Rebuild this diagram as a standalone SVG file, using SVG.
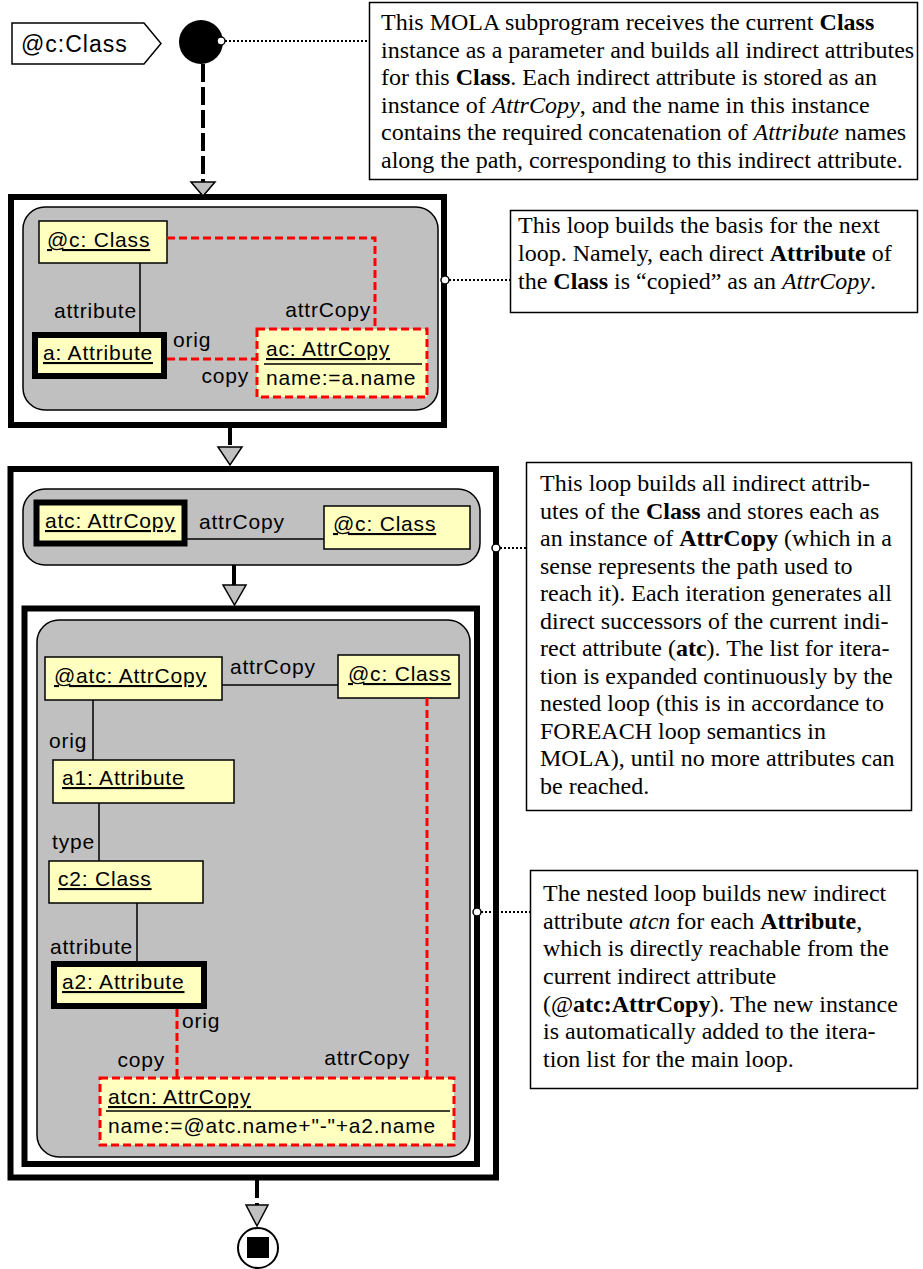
<svg xmlns="http://www.w3.org/2000/svg" width="923" height="1269" viewBox="0 0 923 1269">
<style>
.frame{fill:#fff;stroke:#000;stroke-width:6}
.region{fill:#c0c0c0;stroke:#000;stroke-width:1.5}
.obj{fill:#ffffc0;stroke:#000;stroke-width:1.5}
.objb{fill:#ffffc0;stroke:#000;stroke-width:6}
.objr{fill:#ffffc0;stroke:#f00;stroke-width:3;stroke-dasharray:8 4}
.lbl{font-family:"Liberation Sans",Arial,sans-serif;font-size:21px;letter-spacing:0.8px;fill:#000}
.u{text-decoration:underline}
.link{stroke:#000;stroke-width:1.5;fill:none}
.rlink{stroke:#f00;stroke-width:3;stroke-dasharray:8 4;fill:none}
.flow{stroke:#000;stroke-width:4;stroke-dasharray:18 5;fill:none}
.arr{fill:#c0c0c0;stroke:#000;stroke-width:1.5}
.note{fill:#fff;stroke:#000;stroke-width:1.5}
.nt{font-family:"Liberation Serif","Times New Roman",serif;font-size:24px;fill:#000}
.dot{stroke:#000;stroke-width:2;stroke-dasharray:2 2;fill:none}
.pin{fill:#fff;stroke:#000;stroke-width:1.5}
</style>

<g id="param">
<polygon points="12,23 144,23 161,43.5 144,64 12,64" fill="#fff" stroke="#000" stroke-width="1.5"/>
<text x="21" y="52" font-family="Liberation Sans,Arial,sans-serif" font-size="23" letter-spacing="1">@c:Class</text>
</g>

<g id="start">
<circle cx="201" cy="42" r="22" fill="#000"/>
</g>

<g id="note1">
<rect class="note" x="369.5" y="2.5" width="548" height="177"/>
<text class="nt" x="381" y="30">This MOLA subprogram receives the current <tspan font-weight="bold">Class</tspan></text>
<text class="nt" x="381" y="57.5">instance as a parameter and builds all indirect attributes</text>
<text class="nt" x="381" y="85">for this <tspan font-weight="bold">Class</tspan>. Each indirect attribute is stored as an</text>
<text class="nt" x="381" y="112.5">instance of <tspan font-style="italic">AttrCopy</tspan>, and the name in this instance</text>
<text class="nt" x="381" y="140">contains the required concatenation of <tspan font-style="italic">Attribute</tspan> names</text>
<text class="nt" x="381" y="167.5">along the path, corresponding to this indirect attribute.</text>
</g>

<g id="loop1">
<rect class="frame" x="11" y="197" width="433" height="228"/>
<rect class="region" x="23" y="207" width="415" height="203" rx="22"/>
</g>

<g id="loop1-c">
<rect class="obj" x="39" y="221" width="128" height="42"/>
<text class="lbl u" x="47" y="247">@c: Class</text>
</g>
<g id="loop1-a">
<rect class="objb" x="35" y="335" width="129" height="41"/>
<text class="lbl u" x="43" y="360">a: Attribute</text>
</g>
<g id="loop1-ac">
<rect class="objr" x="257" y="329" width="170" height="68"/>
<text class="lbl u" x="266" y="356">ac: AttrCopy</text>
<line x1="264" y1="364" x2="422" y2="364" stroke="#000" stroke-width="1.5"/>
<text class="lbl" x="266" y="385">name:=a.name</text>
</g>

<g id="note2">
<rect class="note" x="510.5" y="210.5" width="407" height="102"/>
<text class="nt" x="518" y="233">This loop builds the basis for the next</text>
<text class="nt" x="518" y="261">loop. Namely, each direct <tspan font-weight="bold">Attribute</tspan> of</text>
<text class="nt" x="518" y="289">the <tspan font-weight="bold">Class</tspan> is “copied” as an <tspan font-style="italic">AttrCopy</tspan>.</text>
</g>

<g id="loop2">
<rect class="frame" x="10.5" y="469" width="485.5" height="708.5"/>
<rect class="region" x="23" y="489" width="457" height="76" rx="22"/>
</g>
<g id="loop2-atc">
<rect class="objb" x="36.5" y="502.5" width="148" height="41"/>
<text class="lbl u" x="45" y="528">atc: AttrCopy</text>
</g>
<g id="loop2-c">
<rect class="obj" x="324" y="506" width="146" height="43"/>
<text class="lbl u" x="333" y="531">@c: Class</text>
</g>

<g id="note3">
<rect class="note" x="526.5" y="462.5" width="385" height="348"/>
<text class="nt" x="540" y="491">This loop builds all indirect attrib-</text>
<text class="nt" x="540" y="518.5">utes of the <tspan font-weight="bold">Class</tspan> and stores each as</text>
<text class="nt" x="540" y="546">an instance of <tspan font-weight="bold">AttrCopy</tspan> (which in a</text>
<text class="nt" x="540" y="573.5">sense represents the path used to</text>
<text class="nt" x="540" y="601">reach it). Each iteration generates all</text>
<text class="nt" x="540" y="628.5">direct successors of the current indi-</text>
<text class="nt" x="540" y="656">rect attribute (<tspan font-weight="bold">atc</tspan>). The list for itera-</text>
<text class="nt" x="540" y="683.5">tion is expanded continuously by the</text>
<text class="nt" x="540" y="711">nested loop (this is in accordance to</text>
<text class="nt" x="540" y="738.5">FOREACH loop semantics in</text>
<text class="nt" x="540" y="766">MOLA), until no more attributes can</text>
<text class="nt" x="540" y="793.5">be reached.</text>
</g>

<g id="loop3">
<rect class="frame" x="24.5" y="608.5" width="452.5" height="555.5"/>
<rect class="region" x="37" y="620" width="433" height="537" rx="22"/>
</g>
<g id="loop3-atc">
<rect class="obj" x="45" y="657" width="177" height="43"/>
<text class="lbl u" x="54" y="683">@atc: AttrCopy</text>
</g>
<g id="loop3-c">
<rect class="obj" x="338" y="655" width="121" height="43"/>
<text class="lbl u" x="348" y="681">@c: Class</text>
</g>
<g id="loop3-a1">
<rect class="obj" x="53" y="760" width="181" height="43"/>
<text class="lbl u" x="62" y="785">a1: Attribute</text>
</g>
<g id="loop3-c2">
<rect class="obj" x="49" y="861" width="154" height="42"/>
<text class="lbl u" x="58" y="886">c2: Class</text>
</g>
<g id="loop3-a2">
<rect class="objb" x="54" y="964" width="150" height="42"/>
<text class="lbl u" x="62" y="989">a2: Attribute</text>
</g>
<g id="loop3-atcn">
<rect class="objr" x="100" y="1078" width="354" height="67"/>
<text class="lbl u" x="108" y="1104">atcn: AttrCopy</text>
<line x1="106" y1="1111" x2="450" y2="1111" stroke="#000" stroke-width="1.5"/>
<text class="lbl" x="108" y="1133">name:=@atc.name+"-"+a2.name</text>
</g>

<g id="note4">
<rect class="note" x="530.5" y="870.5" width="387" height="218"/>
<text class="nt" x="543" y="901">The nested loop builds new indirect</text>
<text class="nt" x="543" y="928.5">attribute <tspan font-style="italic">atcn</tspan> for each <tspan font-weight="bold">Attribute</tspan>,</text>
<text class="nt" x="543" y="956">which is directly reachable from the</text>
<text class="nt" x="543" y="984">current indirect attribute</text>
<text class="nt" x="543" y="1011.5">(@<tspan font-weight="bold">atc:AttrCopy</tspan>). The new instance</text>
<text class="nt" x="543" y="1039">is automatically added to the itera-</text>
<text class="nt" x="543" y="1067">tion list for the main loop.</text>
</g>

<g id="end">
<circle cx="258" cy="1248" r="20" fill="#fff" stroke="#000" stroke-width="2"/>
<rect x="247" y="1237" width="22" height="21" fill="#000"/>
</g>

<g id="connectors">
<line class="flow" x1="203" y1="64" x2="203" y2="182"/>
<polygon class="arr" points="191,182 215,182 203,196"/>
<line class="flow" x1="230" y1="427" x2="230" y2="447"/>
<polygon class="arr" points="218,447 242,447 230,465"/>
<line x1="234" y1="565" x2="234" y2="585" stroke="#000" stroke-width="4"/>
<polygon class="arr" points="223,585 246,585 234.5,605"/>
<line class="flow" x1="257" y1="1180" x2="257" y2="1205"/>
<polygon class="arr" points="246,1205 268,1205 257,1226"/>

<line class="dot" x1="225" y1="41" x2="367" y2="41"/>
<circle class="pin" cx="221" cy="41" r="4"/>
<line class="dot" x1="449" y1="280" x2="510" y2="280"/>
<circle class="pin" cx="445" cy="280" r="4"/>
<line class="dot" x1="500" y1="548" x2="526" y2="548"/>
<circle class="pin" cx="496" cy="548" r="4"/>
<line class="dot" x1="481" y1="912" x2="530" y2="912"/>
<circle class="pin" cx="477" cy="912" r="4"/>

<line class="link" x1="140" y1="263" x2="140" y2="332"/>
<polyline class="rlink" points="167,238 375,238 375,329"/>
<line class="rlink" x1="167" y1="359" x2="257" y2="359"/>
<text class="lbl" x="137" y="318" text-anchor="end">attribute</text>
<text class="lbl" x="371" y="317" text-anchor="end">attrCopy</text>
<text class="lbl" x="173" y="347">orig</text>
<text class="lbl" x="249" y="383" text-anchor="end">copy</text>

<line class="link" x1="187" y1="539" x2="324" y2="539"/>
<text class="lbl" x="199" y="529">attrCopy</text>

<line class="link" x1="222" y1="685" x2="338" y2="685"/>
<text class="lbl" x="230" y="674">attrCopy</text>
<line class="link" x1="93" y1="700" x2="93" y2="760"/>
<text class="lbl" x="49" y="748">orig</text>
<line class="link" x1="99" y1="803" x2="99" y2="861"/>
<text class="lbl" x="52" y="849">type</text>
<line class="link" x1="137" y1="903" x2="137" y2="961"/>
<text class="lbl" x="50" y="954">attribute</text>
<line class="rlink" x1="177" y1="1009" x2="177" y2="1078"/>
<text class="lbl" x="182" y="1028">orig</text>
<text class="lbl" x="165" y="1067" text-anchor="end">copy</text>
<line class="rlink" x1="427" y1="698" x2="427" y2="1078"/>
<text class="lbl" x="410" y="1065" text-anchor="end">attrCopy</text>
</g>
</svg>
